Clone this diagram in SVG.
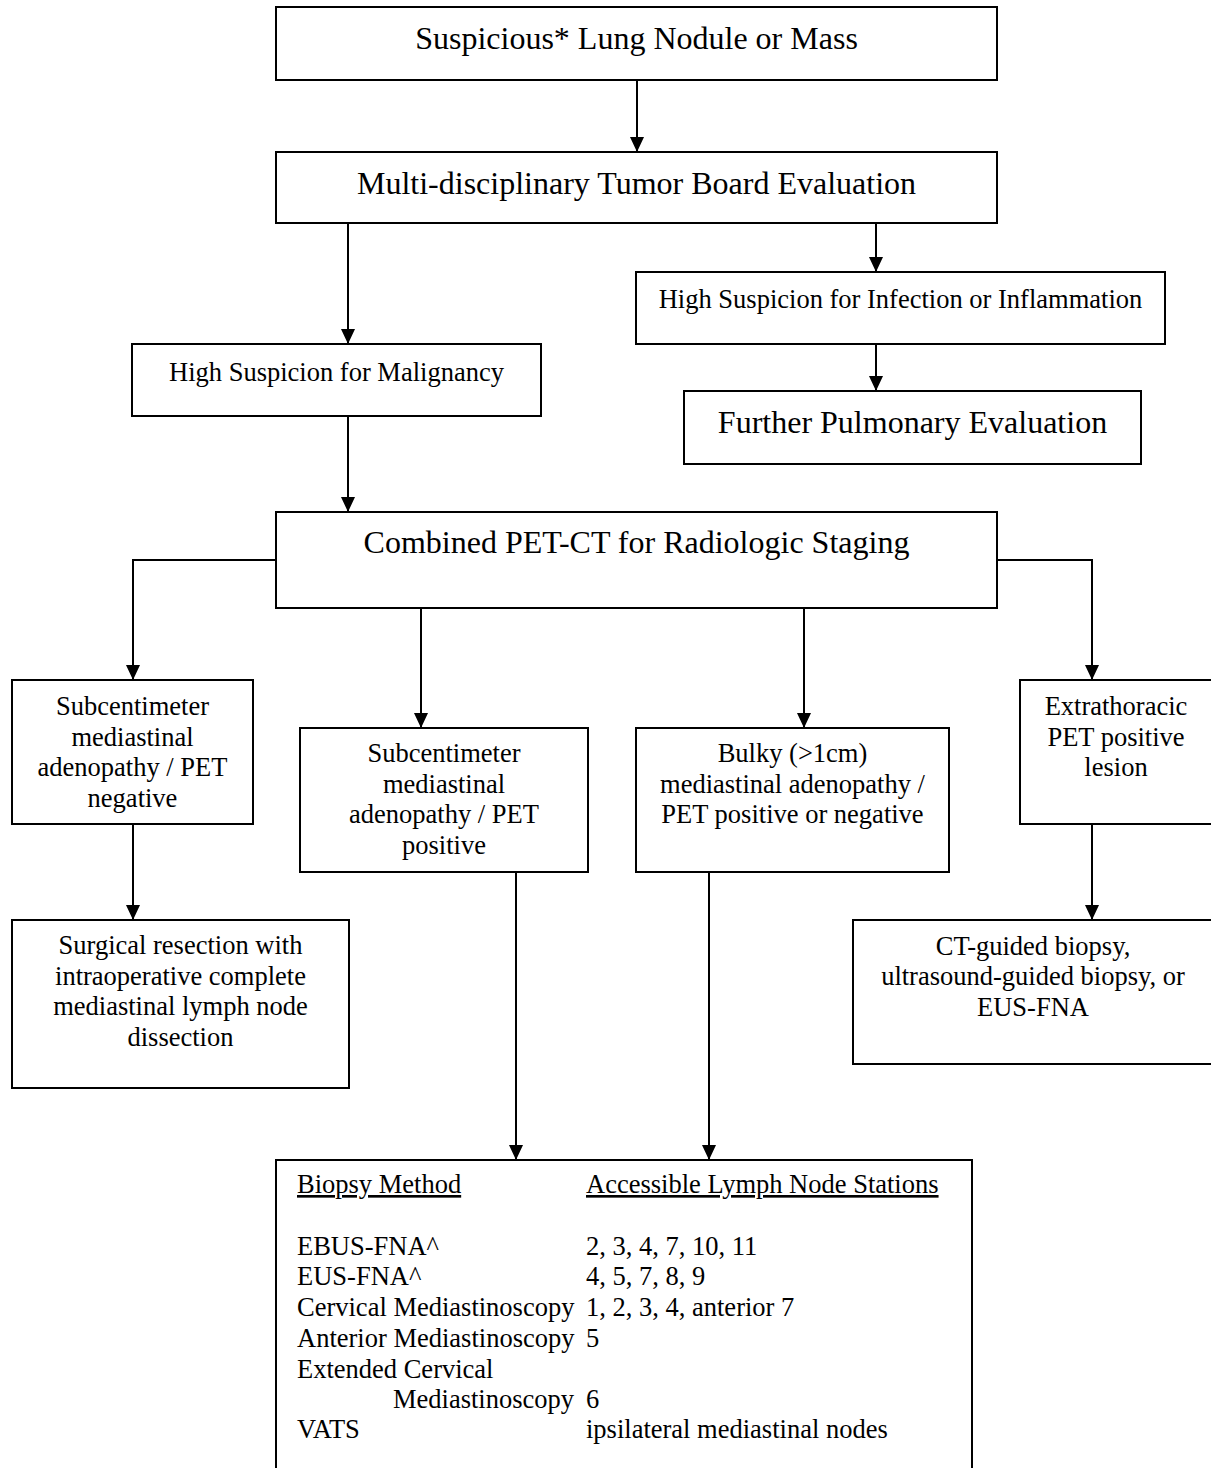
<svg xmlns="http://www.w3.org/2000/svg" width="1211" height="1468" viewBox="0 0 1211 1468">
<style>
.box{fill:#fff;stroke:#000;stroke-width:2}
.big{font-family:"Liberation Serif","Times New Roman",serif;font-size:32px;fill:#000;text-anchor:middle}
.t{font-family:"Liberation Serif","Times New Roman",serif;font-size:26.5px;fill:#000;text-anchor:middle}
.l{font-family:"Liberation Serif","Times New Roman",serif;font-size:26.5px;fill:#000}
.u{text-decoration:underline}
.c{fill:none;stroke:#000;stroke-width:2}
</style>
<defs>
<marker id="ah" viewBox="0 0 15 14" refX="15" refY="7" markerWidth="15" markerHeight="14" markerUnits="userSpaceOnUse" orient="auto">
<path d="M0,0 L15,7 L0,14 z" fill="#000"/>
</marker>
</defs>
<rect width="1211" height="1468" fill="#fff"/>
<g id="connectors">
<line class="c" x1="637" y1="80" x2="637" y2="152" marker-end="url(#ah)"/>
<line class="c" x1="348" y1="223" x2="348" y2="344" marker-end="url(#ah)"/>
<line class="c" x1="876" y1="223" x2="876" y2="272" marker-end="url(#ah)"/>
<line class="c" x1="876" y1="344" x2="876" y2="391" marker-end="url(#ah)"/>
<line class="c" x1="348" y1="416" x2="348" y2="512" marker-end="url(#ah)"/>
<polyline class="c" points="276,560 133,560 133,680" marker-end="url(#ah)"/>
<line class="c" x1="421" y1="608" x2="421" y2="728" marker-end="url(#ah)"/>
<line class="c" x1="804" y1="608" x2="804" y2="728" marker-end="url(#ah)"/>
<polyline class="c" points="997,560 1092,560 1092,680" marker-end="url(#ah)"/>
<line class="c" x1="133" y1="824" x2="133" y2="920" marker-end="url(#ah)"/>
<line class="c" x1="1092" y1="824" x2="1092" y2="920" marker-end="url(#ah)"/>
<line class="c" x1="516" y1="872" x2="516" y2="1160" marker-end="url(#ah)"/>
<line class="c" x1="709" y1="872" x2="709" y2="1160" marker-end="url(#ah)"/>
</g>
<g id="n1">
<rect class="box" x="276" y="7" width="721" height="73"/>
<text class="big" x="636.5" y="49">Suspicious* Lung Nodule or Mass</text>
</g>
<g id="n2">
<rect class="box" x="276" y="152" width="721" height="71"/>
<text class="big" x="636.5" y="194">Multi-disciplinary Tumor Board Evaluation</text>
</g>
<g id="n3">
<rect class="box" x="132" y="344" width="409" height="72"/>
<text class="t" x="336.5" y="381">High Suspicion for Malignancy</text>
</g>
<g id="n4">
<rect class="box" x="636" y="272" width="529" height="72"/>
<text class="t" x="900.5" y="308">High Suspicion for Infection or Inflammation</text>
</g>
<g id="n5">
<rect class="box" x="684" y="391" width="457" height="73"/>
<text class="big" x="912.5" y="433">Further Pulmonary Evaluation</text>
</g>
<g id="n6">
<rect class="box" x="276" y="512" width="721" height="96"/>
<text class="big" x="636.5" y="553">Combined PET-CT for Radiologic Staging</text>
</g>
<g id="n7">
<rect class="box" x="12" y="680" width="241" height="144"/>
<text class="t" x="132.5" y="715">Subcentimeter</text>
<text class="t" x="132.5" y="746">mediastinal</text>
<text class="t" x="132.5" y="776">adenopathy / PET</text>
<text class="t" x="132.5" y="807">negative</text>
</g>
<g id="n8">
<rect class="box" x="300" y="728" width="288" height="144"/>
<text class="t" x="444" y="762">Subcentimeter</text>
<text class="t" x="444" y="793">mediastinal</text>
<text class="t" x="444" y="823">adenopathy / PET</text>
<text class="t" x="444" y="854">positive</text>
</g>
<g id="n9">
<rect class="box" x="636" y="728" width="313" height="144"/>
<text class="t" x="792.5" y="762">Bulky (&gt;1cm)</text>
<text class="t" x="792.5" y="793">mediastinal adenopathy /</text>
<text class="t" x="792.5" y="823">PET positive or negative</text>
</g>
<g id="n10">
<rect class="box" x="1020" y="680" width="193" height="144"/>
<text class="t" x="1116" y="715">Extrathoracic</text>
<text class="t" x="1116" y="746">PET positive</text>
<text class="t" x="1116" y="776">lesion</text>
</g>
<g id="n11">
<rect class="box" x="12" y="920" width="337" height="168"/>
<text class="t" x="180.5" y="954">Surgical resection with</text>
<text class="t" x="180.5" y="985">intraoperative complete</text>
<text class="t" x="180.5" y="1015">mediastinal lymph node</text>
<text class="t" x="180.5" y="1046">dissection</text>
</g>
<g id="n12">
<rect class="box" x="853" y="920" width="360" height="144"/>
<text class="t" x="1033" y="955">CT-guided biopsy,</text>
<text class="t" x="1033" y="985">ultrasound-guided biopsy, or</text>
<text class="t" x="1033" y="1016">EUS-FNA</text>
</g>
<g id="n13">
<rect class="box" x="276" y="1160" width="696" height="330"/>
<text class="l u" x="297" y="1193">Biopsy Method</text>
<text class="l u" x="586" y="1193">Accessible Lymph Node Stations</text>
<text class="l" x="297" y="1255">EBUS-FNA^</text>
<text class="l" x="586" y="1255">2, 3, 4, 7, 10, 11</text>
<text class="l" x="297" y="1285">EUS-FNA^</text>
<text class="l" x="586" y="1285">4, 5, 7, 8, 9</text>
<text class="l" x="297" y="1316">Cervical Mediastinoscopy</text>
<text class="l" x="586" y="1316">1, 2, 3, 4, anterior 7</text>
<text class="l" x="297" y="1347">Anterior Mediastinoscopy</text>
<text class="l" x="586" y="1347">5</text>
<text class="l" x="297" y="1378">Extended Cervical</text>
<text class="l" x="393" y="1408">Mediastinoscopy</text>
<text class="l" x="586" y="1408">6</text>
<text class="l" x="297" y="1438">VATS</text>
<text class="l" x="586" y="1438">ipsilateral mediastinal nodes</text>
</g>
</svg>
